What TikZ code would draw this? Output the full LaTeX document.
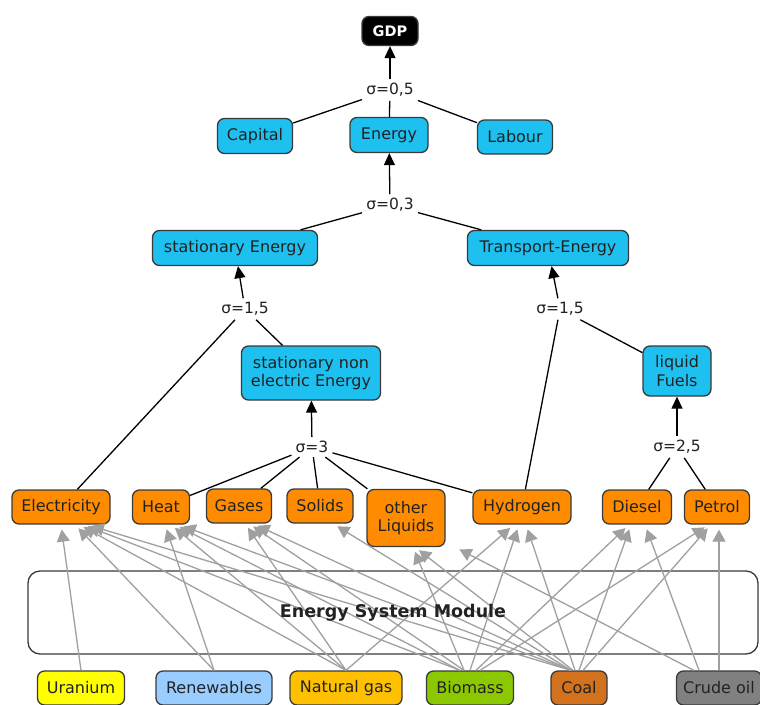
\documentclass[tikz,border=0pt]{standalone}
\usepackage{fontspec}
\setmainfont{DejaVu Sans}
\usetikzlibrary{arrows.meta}
\definecolor{cblue}{HTML}{1EC0F0}
\definecolor{corange}{HTML}{FF8C00}
\definecolor{bord}{HTML}{3A3A3A}
\definecolor{cgray}{HTML}{A0A0A0}
\definecolor{ctext}{HTML}{222222}
\definecolor{curan}{HTML}{FFFF00}
\definecolor{crenew}{HTML}{99CCFF}
\definecolor{cngas}{HTML}{FFC000}
\definecolor{cbio}{HTML}{8CC800}
\definecolor{ccoal}{HTML}{D2711E}
\definecolor{ccrude}{HTML}{808080}
\begin{document}
\begin{tikzpicture}[x=1pt,y=-1pt,
  box/.style={draw=bord, line width=1.3pt, rounded corners=7pt, inner sep=0pt, align=center, text=ctext, font=\fontsize{16}{18.5}\selectfont},
  sz/.style 2 args={minimum width=#1pt, minimum height=#2pt},
  bluebox/.style={box, fill=cblue},
  orangebox/.style={box, fill=corange},
  lbl/.style={inner sep=4pt, text=ctext, font=\fontsize{15.5}{17}\selectfont},
  conn/.style={line width=1.3pt, draw=black},
  bar/.style={conn, -{Triangle[length=12pt,width=11pt]}},
  garrow/.style={draw=cgray, line width=1.3pt, -{Triangle[length=12pt,width=13pt]}, shorten >=5pt},
]
\useasboundingbox (0,0) rectangle (760,704);
\fill[white] (0,0) rectangle (760,704);

% top
\node[box, fill=black, text=white, font=\fontsize{14.5}{16}\bfseries\selectfont, sz={56}{29}] (gdp) at (390,31) {GDP};
\node[lbl] (s05) at (390,90) {σ=0,5};
\node[bluebox, sz={75}{35}] (capital) at (255,136) {Capital};
\node[bluebox, sz={78}{35}] (energy) at (389,135) {Energy};
\node[bluebox, sz={75}{34}] (labour) at (515,137) {Labour};
\node[lbl] (s03) at (390,205) {σ=0,3};
\node[bluebox, sz={165}{35}] (state) at (235,248) {stationary Energy};
\node[bluebox, sz={161}{35}] (transe) at (548,248) {Transport-Energy};
\node[lbl] (s15a) at (245,309) {σ=1,5};
\node[lbl] (s15b) at (560,309) {σ=1,5};
\node[bluebox, sz={139}{54}] (snee) at (311,373) {stationary non\\electric Energy};
\node[bluebox, sz={68}{50}] (liqf) at (677,371) {liquid\\Fuels};
\node[lbl] (s3) at (312,447) {σ=3};
\node[lbl] (s25) at (677,447) {σ=2,5};

% carriers
\node[orangebox, sz={98}{34}] (elec) at (61,507) {Electricity};
\node[orangebox, sz={57}{34}] (heat) at (161,507) {Heat};
\node[orangebox, sz={65}{34}] (gases) at (239,506) {Gases};
\node[orangebox, sz={66}{34}] (solids) at (320,506) {Solids};
\node[orangebox, sz={78}{57}] (oliq) at (406,518) {other\\Liquids};
\node[orangebox, sz={98}{34}] (hydro) at (522,507) {Hydrogen};
\node[orangebox, sz={69}{34}] (diesel) at (637,507) {Diesel};
\node[orangebox, sz={65}{34}] (petrol) at (717,507) {Petrol};

% module
\node[draw=bord, line width=1.3pt, rounded corners=12pt, sz={730}{83}] (esm) at (393,612.5) {};

% sources
\node[box, fill=curan, sz={87}{34}] (uran) at (81,688) {Uranium};
\node[box, fill=crenew, sz={116}{34}] (renew) at (214,688) {Renewables};
\node[box, fill=cngas, sz={112}{34}] (ngas) at (346,688) {Natural gas};
\node[box, fill=cbio, sz={87}{34}] (bio) at (470,688) {Biomass};
\node[box, fill=ccoal, sz={56}{34}] (coal) at (579,688) {Coal};
\node[box, fill=ccrude, sz={85}{34}] (crude) at (719,688) {Crude oil};

% gray arrows
\draw[garrow] (uran.north) -- (elec.south);
\draw[garrow] (renew.north) -- ([xshift=14pt]elec.south);
\draw[garrow] (renew.north) -- ([xshift=4pt]heat.south);
\draw[garrow] (ngas.north) -- ([xshift=18pt]elec.south);
\draw[garrow] (ngas.north) -- ([xshift=10pt]heat.south);
\draw[garrow] (ngas.north) -- ([xshift=6pt]gases.south);
\draw[garrow] (ngas.north) -- ([xshift=-8pt]hydro.south);
\draw[garrow] ([xshift=-10pt]bio.north) -- ([xshift=22pt]elec.south);
\draw[garrow] ([xshift=-10pt]bio.north) -- ([xshift=14pt]heat.south);
\draw[garrow] ([xshift=-6pt]bio.north) -- ([xshift=10pt]gases.south);
\draw[garrow] ([xshift=-6pt]bio.north) -- ([xshift=7pt]oliq.south);
\draw[garrow] (bio.north) -- ([xshift=-3pt]hydro.south);
\draw[garrow] ([xshift=6pt]bio.north) -- ([xshift=-8pt]diesel.south);
\draw[garrow] ([xshift=10pt]bio.north) -- ([xshift=-8pt]petrol.south);
\draw[garrow] ([xshift=-8pt]coal.north) -- ([xshift=26pt]elec.south);
\draw[garrow] ([xshift=-8pt]coal.north) -- ([xshift=18pt]heat.south);
\draw[garrow] ([xshift=-8pt]coal.north) -- ([xshift=14pt]gases.south);
\draw[garrow] ([xshift=-8pt]coal.north) -- ([xshift=13pt]solids.south);
\draw[garrow] ([xshift=-6pt]coal.north) -- ([xshift=9pt]oliq.south);
\draw[garrow] ([xshift=-4pt]coal.north) -- ([xshift=4pt]hydro.south);
\draw[garrow] (coal.north) -- ([xshift=-6pt]diesel.south);
\draw[garrow] ([xshift=4pt]coal.north) -- ([xshift=-6pt]petrol.south);
\draw[garrow] ([xshift=-25pt]crude.north) -- ([xshift=49pt]oliq.south);
\draw[garrow] ([xshift=-20pt]crude.north) -- ([xshift=8pt]diesel.south);
\draw[garrow] (crude.north) -- ([xshift=2pt]petrol.south);

\node[font=\fontsize{17.5}{19}\bfseries\selectfont, text=ctext] at (esm.center) {Energy System Module};

% black structure
\draw[bar] (s05) -- (gdp);
\draw[conn] (s05) -- (capital);
\draw[conn] (s05) -- (energy);
\draw[conn] (s05) -- (labour);
\draw[bar] (s03) -- (energy);
\draw[conn] (s03) -- (state);
\draw[conn] (s03) -- (transe);
\draw[bar] (s15a) -- (state);
\draw[conn] (s15a) -- (elec);
\draw[conn] (s15a) -- (snee);
\draw[bar] (s3) -- (snee);
\draw[conn] (s3) -- (heat);
\draw[conn] (s3) -- (gases);
\draw[conn] (s3) -- (solids);
\draw[conn] (s3) -- (oliq);
\draw[conn] (s3) -- (hydro);
\draw[bar] (s15b) -- (transe);
\draw[conn] (s15b) -- (hydro);
\draw[conn] (s15b) -- (liqf);
\draw[bar] (s25) -- (liqf);
\draw[conn] (s25) -- (diesel);
\draw[conn] (s25) -- (petrol);
\end{tikzpicture}
\end{document}
